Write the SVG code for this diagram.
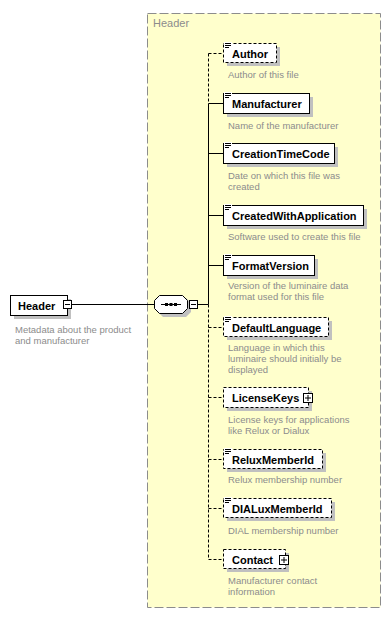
<svg xmlns="http://www.w3.org/2000/svg" width="391" height="621" viewBox="0 0 391 621">
  <style>
    .bg { fill: #ffffff; }
    .group { fill: #ffffcc; stroke: #8c8c8c; stroke-width: 1; stroke-dasharray: 9 3; }
    .group-title { font-family: "Liberation Sans", Arial, sans-serif; font-size: 11px; fill: #8c8c8c; }
    .shadow { fill: #c0c0c0; }
    .box { fill: #ffffff; stroke: #000000; stroke-width: 1; }
    .box.opt { stroke-dasharray: 3 2; }
    .name { font-family: "Liberation Sans", Arial, sans-serif; font-size: 11px; font-weight: bold; fill: #000000; }
    .doc { font-family: "Liberation Sans", Arial, sans-serif; font-size: 9.5px; fill: #8c8c8c; }
    .wire { stroke: #000000; stroke-width: 1; fill: none; }
    .wire.opt { stroke-dasharray: 3 2; }
    .icon { stroke: #000000; stroke-width: 1; }
    .pm { fill: #ffffff; stroke: #000000; stroke-width: 1; }
  </style>

  <rect class="bg" x="0" y="0" width="391" height="621"/>

  <!-- sequence group frame -->
  <g id="header-type">
    <rect class="group" x="147.5" y="13.5" width="233" height="594"/>
    <text class="group-title" x="153" y="27">Header</text>
  </g>

  <!-- connectors -->
  <g id="connectors">
    <line class="wire" x1="71" y1="304.5" x2="154" y2="304.5"/>
    <line class="wire" x1="187" y1="304.5" x2="189" y2="304.5"/>
    <line class="wire" x1="198" y1="304.5" x2="208.5" y2="304.5"/>
    <!-- spine: optional above, mandatory block, optional below -->
    <line class="wire opt" x1="208.5" y1="53.5" x2="208.5" y2="103.5"/>
    <line class="wire" x1="208.5" y1="103.5" x2="208.5" y2="304.5"/>
    <line class="wire opt" x1="208.5" y1="304.5" x2="208.5" y2="559.5"/>
    <!-- branches -->
    <line class="wire opt" x1="208.5" y1="53.5" x2="223" y2="53.5"/>
    <line class="wire" x1="208.5" y1="103.5" x2="223" y2="103.5"/>
    <line class="wire" x1="208.5" y1="153.5" x2="223" y2="153.5"/>
    <line class="wire" x1="208.5" y1="215.5" x2="223" y2="215.5"/>
    <line class="wire" x1="208.5" y1="265.5" x2="223" y2="265.5"/>
    <line class="wire opt" x1="208.5" y1="327.5" x2="223" y2="327.5"/>
    <line class="wire opt" x1="208.5" y1="397.5" x2="223" y2="397.5"/>
    <line class="wire opt" x1="208.5" y1="459.5" x2="223" y2="459.5"/>
    <line class="wire opt" x1="208.5" y1="508.5" x2="223" y2="508.5"/>
    <line class="wire opt" x1="208.5" y1="559.5" x2="223" y2="559.5"/>
  </g>

  <!-- root element -->
  <g id="root-header">
    <rect class="shadow" x="14" y="299" width="57" height="20"/>
    <rect class="box" x="10.5" y="295.5" width="57" height="20"/>
    <text class="name" x="18" y="309.5">Header</text>
    <rect class="pm" x="63.5" y="300.5" width="8" height="8"/>
    <line class="icon" x1="65" y1="304.5" x2="70" y2="304.5"/>
    <text class="doc" x="15" y="333">Metadata about the product</text>
    <text class="doc" x="15" y="344">and manufacturer</text>
  </g>

  <!-- sequence compositor -->
  <g id="sequence">
    <path class="shadow" d="M163,298 H186 L191,303 V312 L186,317 H163 L158,312 V303 Z"/>
    <path class="box" d="M159.5,295.5 H182.5 L187.5,300.5 V308.5 L182.5,313.5 H159.5 L154.5,308.5 V300.5 Z"/>
    <line class="icon" x1="161" y1="304.5" x2="181" y2="304.5"/>
    <rect x="165" y="303" width="3" height="3" fill="#000"/>
    <rect x="169.5" y="303" width="3" height="3" fill="#000"/>
    <rect x="174" y="303" width="3" height="3" fill="#000"/>
    <rect class="pm" x="189.5" y="300.5" width="8" height="8"/>
    <line class="icon" x1="191" y1="304.5" x2="196" y2="304.5"/>
  </g>

  <!-- child elements -->
  <g id="author">
    <rect class="shadow" x="227" y="47" width="53" height="19"/>
    <rect class="box opt" x="223.5" y="43.5" width="53" height="19"/>
    <rect x="224" y="42" width="8" height="7" fill="#fff"/>
    <path class="icon" d="M225,43.5 H231 M225,45.5 H231 M225,47.5 H229"/>
    <text class="name" x="232" y="57.5">Author</text>
    <text class="doc" x="228" y="78">Author of this file</text>
  </g>

  <g id="manufacturer">
    <rect class="shadow" x="227" y="97" width="86" height="20"/>
    <rect class="box" x="223.5" y="93.5" width="86" height="20"/>
    <rect x="224" y="92" width="8" height="7" fill="#fff"/>
    <path class="icon" d="M225,93.5 H231 M225,95.5 H231 M225,97.5 H229"/>
    <text class="name" x="232" y="108">Manufacturer</text>
    <text class="doc" x="228" y="129">Name of the manufacturer</text>
  </g>

  <g id="creation-time-code">
    <rect class="shadow" x="227" y="147" width="111" height="20"/>
    <rect class="box" x="223.5" y="143.5" width="111" height="20"/>
    <rect x="224" y="142" width="8" height="7" fill="#fff"/>
    <path class="icon" d="M225,143.5 H231 M225,145.5 H231 M225,147.5 H229"/>
    <text class="name" x="232" y="158">CreationTimeCode</text>
    <text class="doc" x="228" y="179">Date on which this file was</text>
    <text class="doc" x="228" y="190">created</text>
  </g>

  <g id="created-with-application">
    <rect class="shadow" x="227" y="209" width="140" height="20"/>
    <rect class="box" x="223.5" y="205.5" width="140" height="20"/>
    <rect x="224" y="204" width="8" height="7" fill="#fff"/>
    <path class="icon" d="M225,205.5 H231 M225,207.5 H231 M225,209.5 H229"/>
    <text class="name" x="232" y="220">CreatedWithApplication</text>
    <text class="doc" x="228" y="240">Software used to create this file</text>
  </g>

  <g id="format-version">
    <rect class="shadow" x="227" y="259" width="91" height="20"/>
    <rect class="box" x="223.5" y="255.5" width="91" height="20"/>
    <rect x="224" y="254" width="8" height="7" fill="#fff"/>
    <path class="icon" d="M225,255.5 H231 M225,257.5 H231 M225,259.5 H229"/>
    <text class="name" x="232" y="270">FormatVersion</text>
    <text class="doc" x="228" y="289">Version of the luminaire data</text>
    <text class="doc" x="228" y="300">format used for this file</text>
  </g>

  <g id="default-language">
    <rect class="shadow" x="227" y="321" width="105" height="19"/>
    <rect class="box opt" x="223.5" y="317.5" width="105" height="19"/>
    <rect x="224" y="316" width="8" height="7" fill="#fff"/>
    <path class="icon" d="M225,317.5 H231 M225,319.5 H231 M225,321.5 H229"/>
    <text class="name" x="232" y="331.5">DefaultLanguage</text>
    <text class="doc" x="228" y="351">Language in which this</text>
    <text class="doc" x="228" y="362">luminaire should initially be</text>
    <text class="doc" x="228" y="373">displayed</text>
  </g>

  <g id="license-keys">
    <rect class="shadow" x="227" y="391" width="85" height="20"/>
    <rect class="box opt" x="223.5" y="387.5" width="85" height="20"/>
    <text class="name" x="232" y="402">LicenseKeys</text>
    <rect class="pm" x="303.5" y="393.5" width="9" height="9"/>
    <path class="icon" d="M305,398 H311 M308,395 V401"/>
    <text class="doc" x="228" y="423">License keys for applications</text>
    <text class="doc" x="228" y="434">like Relux or Dialux</text>
  </g>

  <g id="relux-member-id">
    <rect class="shadow" x="227" y="453" width="99" height="19"/>
    <rect class="box opt" x="223.5" y="449.5" width="99" height="19"/>
    <rect x="224" y="448" width="8" height="7" fill="#fff"/>
    <path class="icon" d="M225,449.5 H231 M225,451.5 H231 M225,453.5 H229"/>
    <text class="name" x="232" y="463.5">ReluxMemberId</text>
    <text class="doc" x="228" y="483">Relux membership number</text>
  </g>

  <g id="dialux-member-id">
    <rect class="shadow" x="227" y="502" width="108" height="19"/>
    <rect class="box opt" x="223.5" y="498.5" width="108" height="19"/>
    <rect x="224" y="497" width="8" height="7" fill="#fff"/>
    <path class="icon" d="M225,498.5 H231 M225,500.5 H231 M225,502.5 H229"/>
    <text class="name" x="232" y="512.5">DIALuxMemberId</text>
    <text class="doc" x="228" y="534">DIAL membership number</text>
  </g>

  <g id="contact">
    <rect class="shadow" x="227" y="553" width="62" height="19"/>
    <rect class="box opt" x="223.5" y="549.5" width="62" height="19"/>
    <text class="name" x="232" y="563.5">Contact</text>
    <rect class="pm" x="279.5" y="555.5" width="9" height="9"/>
    <path class="icon" d="M281,560 H287 M284,557 V563"/>
    <text class="doc" x="228" y="584">Manufacturer contact</text>
    <text class="doc" x="228" y="595">information</text>
  </g>
</svg>
